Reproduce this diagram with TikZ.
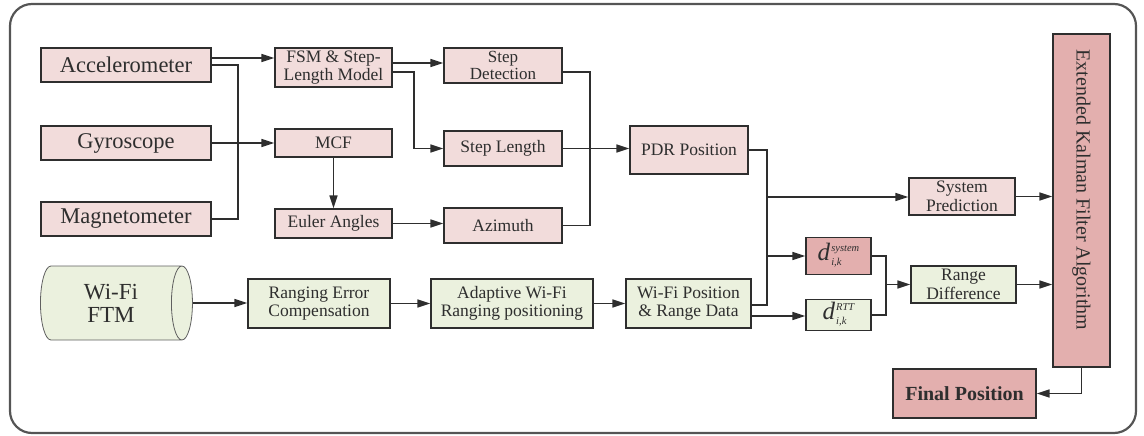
\documentclass[tikz,border=0pt]{standalone}
\usepackage{fontspec}
\setmainfont{Liberation Serif}
\usetikzlibrary{arrows.meta,shapes.geometric}
\definecolor{pinkL}{HTML}{F2DCDB}
\definecolor{pinkD}{HTML}{E3AFAE}
\definecolor{greenL}{HTML}{EBF1DE}
\definecolor{ink}{HTML}{2E2E2E}
\definecolor{framec}{HTML}{555555}
% d with a stacked superscript / subscript
\newcommand{\dsym}[2]{\textit{d}\kern1pt\raisebox{1.5pt}{\fontsize{10.5}{11}\selectfont\itshape
  \begin{tabular}{@{}l@{}}#1\\[3pt]#2\end{tabular}}}

\begin{document}
\begin{tikzpicture}[x=1pt,y=-1pt,
  blk/.style={draw=ink, line width=1.3pt, rectangle, inner sep=0pt, align=center,
              text=ink, font=\fontsize{17.5}{18.5}\selectfont},
  pk/.style={blk, fill=pinkL},
  pkd/.style={blk, fill=pinkD},
  gn/.style={blk, fill=greenL},
  big/.style={font=\fontsize{22.5}{22.5}\selectfont},
  sz/.style 2 args={minimum width=#1pt, minimum height=#2pt},
  wire/.style={draw=ink, line width=1.6pt},
  arr/.style={wire, -{Triangle[length=13pt,width=8pt]}}]

\useasboundingbox (0,0) rectangle (1144,436);
\draw[framec, line width=2.2pt, rounded corners=22pt] (10,4) rectangle (1136,433);

% sensor inputs
\node[pk, big, sz={170}{34}] (acc)  at (126,65)  {Accelerometer};
\node[pk, big, sz={170}{34}] (gyro) at (126,143) {Gyroscope};
\node[pk, big, sz={170}{34}] (mag)  at (126,219) {Magnetometer};

% PDR chain
\node[pk, sz={117}{39}] (fsm)   at (333.5,67.5) {FSM \& Step-\\Length Model};
\node[pk, sz={117}{28}] (mcf)   at (333.5,143)  {MCF};
\node[pk, sz={117}{29}] (euler) at (333.5,223.5) {Euler Angles};
\node[pk, sz={118}{35}, font=\fontsize{17}{17}\selectfont] (sdet) at (503,65.5) {Step\\Detection};
\node[pk, sz={118}{35}] (slen)  at (503,148.5) {Step Length};
\node[pk, sz={118}{35}] (azi)   at (503,225.5) {Azimuth};
\node[pk, sz={118}{48}] (pdr)   at (689,150)   {PDR Position};

% fusion side
\node[pk, sz={106}{37}] (sysp)  at (962,196.5) {System\\Prediction};
\node[pkd, sz={57}{333}] (ekf)  at (1081.5,200.5) {};
\node[rotate=-90, text=ink, font=\fontsize{20}{20}\selectfont] (ekftxt) at (1081.5,190)
  {Extended Kalman Filter Algorithm};
\node[pkd, sz={65}{37}, font=\fontsize{25}{25}\selectfont] (dsys) at (838.5,256)
  {\dsym{system}{i,k}};
\node[gn, sz={65}{31}, font=\fontsize{25}{25}\selectfont] (drtt) at (838.5,315)
  {\dsym{RTT}{i,k}};
\node[gn, sz={105}{37}] (rdiff) at (963.5,284.5) {Range\\Difference};
\node[pkd, sz={143}{49}, font=\fontsize{20}{20}\selectfont\bfseries] (final) at (964.5,393.5)
  {Final Position};

% Wi-Fi chain
\node[cylinder, shape border rotate=0, aspect=0.55, draw=gray!75!black, line width=0.8pt,
      cylinder uses custom fill, cylinder body fill=greenL, cylinder end fill=greenL,
      minimum width=74pt, minimum height=152pt, inner sep=0pt, align=center, text=ink,
      font=\fontsize{23}{23}\selectfont] (ftm) at (111,303) {Wi-Fi\\FTM};
\node[gn, sz={142}{49}] (rec)  at (319,303.5) {Ranging Error\\Compensation};
\node[gn, sz={162}{49}] (awr)  at (512,303.5) {Adaptive Wi-Fi\\Ranging positioning};
\node[gn, sz={125}{49}] (wpos) at (688.5,303.5) {Wi-Fi Position\\\& Range Data};

% junction points
\coordinate (aUp) at ([yshift=7pt]acc.east);
\coordinate (jA)  at (238,65);
\coordinate (fUp) at ([yshift=4.5pt]fsm.east);
\coordinate (fDn) at ([yshift=-4.5pt]fsm.east);
\coordinate (jF)  at (414,72);
\coordinate (sOut) at ([yshift=-6.5pt]sdet.east);
\coordinate (jS)  at (590,72);
\coordinate (jW)  at (767,305);
\coordinate (jP)  at (767,197);
\coordinate (jQ)  at (767,256);
\coordinate (wLo) at ([yshift=-12.5pt]wpos.east);
\coordinate (jD)  at (886,256);
\coordinate (jR)  at (886,284.5);

% sensor wiring
\draw[arr] (aUp) -- (aUp -| fsm.west);
\draw[wire] (acc.east) -- (jA) |- (mag.east);
\draw[arr] (gyro.east) -- (mcf.west);

% PDR wiring
\draw[arr] (fUp) -- (fUp -| sdet.west);
\draw[arr] (fDn) -- (jF) |- (slen.west);
\draw[arr] (mcf) -- (euler);
\draw[arr] (euler.east) -- (euler.east -| azi.west);
\draw[wire] (sOut) -- (jS) |- (azi.east);
\draw[arr] (slen.east) -- (slen.east -| pdr.west);

% fusion wiring
\draw[wire] (pdr.east) -| (jW) -- (jW -| wpos.east);
\draw[arr] (jP) -- (jP -| sysp.west);
\draw[arr] (jQ) -- (dsys.west);
\draw[arr] (wLo) -- (wLo -| drtt.west);
\draw[wire] (dsys.east) -- (jD) |- (drtt.east);
\draw[arr] (jR) -- (rdiff.west);
\draw[arr] (sysp.east) -- (sysp.east -| ekf.west);
\draw[arr] (rdiff.east) -- (rdiff.east -| ekf.west);
\draw[arr] (ekf.south) |- (final.east);

% Wi-Fi wiring
\draw[arr] (ftm.east) -- (ftm.east -| rec.west);
\draw[arr] (rec.east) -- (awr.west);
\draw[arr] (awr.east) -- (wpos.west);
\end{tikzpicture}
\end{document}
